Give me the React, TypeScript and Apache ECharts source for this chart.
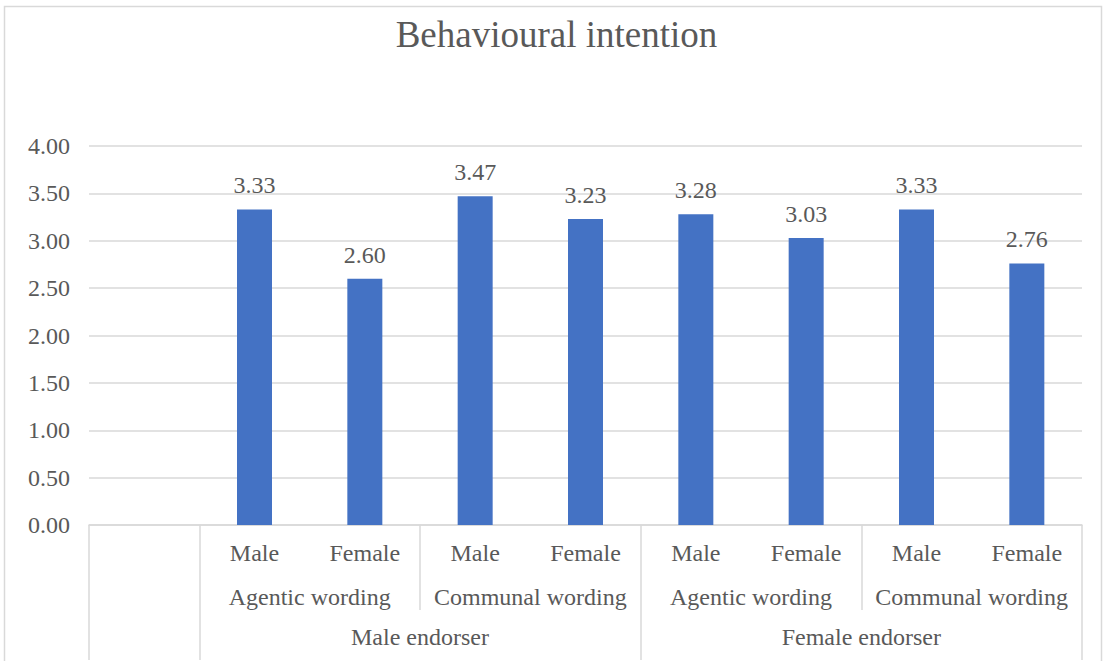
import React, { useEffect, useRef } from "react";
import * as echarts from "echarts";

const TITLE = "Behavioural intention";
const genderLabels = ["Male", "Female", "Male", "Female", "Male", "Female", "Male", "Female"];
const wordingLabels = ["Agentic wording", "Communal wording", "Agentic wording", "Communal wording"];
const endorserLabels = ["Male endorser", "Female endorser"];
const values = [3.33, 2.6, 3.47, 3.23, 3.28, 3.03, 3.33, 2.76];
const yTicks = { min: 0, max: 4, interval: 0.5 };

const FONT = "'Liberation Serif', 'Times New Roman', serif";
const TXT = "#595959";
const GRID = "#d9d9d9";

// level 1: one empty leading category, then 8 bars
const level1 = ["", ...genderLabels];
const seriesData: (number | null)[] = [null, ...values];
// boundary axes: 10 points at category boundaries (0..9)
const nB = level1.length + 1;
const level2 = Array.from({ length: nB }, () => "");
wordingLabels.forEach((w, k) => { level2[1 + 2 * k + 1] = w; });
const level3 = Array.from({ length: nB }, () => "");
endorserLabels.forEach((e, k) => { level3[1 + 4 * k + 2] = e; });
const longTicks = new Set<number>([0, 1, ...endorserLabels.map((_, k) => 1 + 4 * (k + 1))]);
const shortTicks = new Set<number>(
  wordingLabels.map((_, k) => 1 + 2 * (k + 1)).filter((i) => !longTicks.has(i))
);

export default function App() {
  const ref = useRef<HTMLDivElement>(null);
  useEffect(() => {
    document.body.style.margin = "0";
    const chart = echarts.init(ref.current!, null, { renderer: "svg" });
    const labelBase = { color: TXT, fontFamily: FONT, fontSize: 24 };
    chart.setOption({
      animation: false,
      backgroundColor: "#ffffff",
      title: {
        text: TITLE,
        left: "center",
        top: 11,
        textStyle: { color: TXT, fontFamily: FONT, fontSize: 37, fontWeight: "normal" },
      },
      graphic: [
        {
          type: "rect",
          shape: { x: 4.5, y: 6.5, width: 1097, height: 700 },
          style: { fill: "none", stroke: GRID, lineWidth: 1.5 },
          silent: true,
        },
      ],
      grid: { left: 89, right: 31, top: 146, bottom: 136 },
      xAxis: [
        {
          type: "category",
          data: level1,
          boundaryGap: true,
          position: "bottom",
          axisLine: { show: true, lineStyle: { color: GRID, width: 1.5 } },
          axisTick: { show: false },
          axisLabel: { ...labelBase, interval: 0, margin: 16 },
          splitLine: { show: false },
        },
        {
          type: "category",
          data: level2,
          boundaryGap: false,
          position: "bottom",
          axisLine: { show: false },
          axisTick: {
            show: true,
            length: 85,
            interval: (i: number) => shortTicks.has(i),
            lineStyle: { color: GRID, width: 1.5 },
          },
          axisLabel: { ...labelBase, interval: 0, margin: 60 },
          splitLine: { show: false },
        },
        {
          type: "category",
          data: level3,
          boundaryGap: false,
          position: "bottom",
          axisLine: { show: false },
          axisTick: {
            show: true,
            length: 135,
            interval: (i: number) => longTicks.has(i),
            lineStyle: { color: GRID, width: 1.5 },
          },
          axisLabel: { ...labelBase, interval: 0, margin: 100 },
          splitLine: { show: false },
        },
      ],
      yAxis: {
        type: "value",
        min: yTicks.min,
        max: yTicks.max,
        interval: yTicks.interval,
        axisLine: { show: false },
        axisTick: { show: false },
        axisLabel: { ...labelBase, margin: 19, formatter: (v: number) => v.toFixed(2) },
        splitLine: { show: true, lineStyle: { color: GRID, width: 1.5 } },
      },
      series: [
        {
          type: "bar",
          xAxisIndex: 0,
          data: seriesData,
          barWidth: 35,
          itemStyle: { color: "#4472C4" },
          label: {
            show: true,
            position: "top",
            distance: 12,
            ...labelBase,
            formatter: (p: any) => (p.value == null ? "" : Number(p.value).toFixed(2)),
          },
        },
      ],
    });
    return () => chart.dispose();
  }, []);
  return <div ref={ref} style={{ width: 1113, height: 661 }} />;
}
